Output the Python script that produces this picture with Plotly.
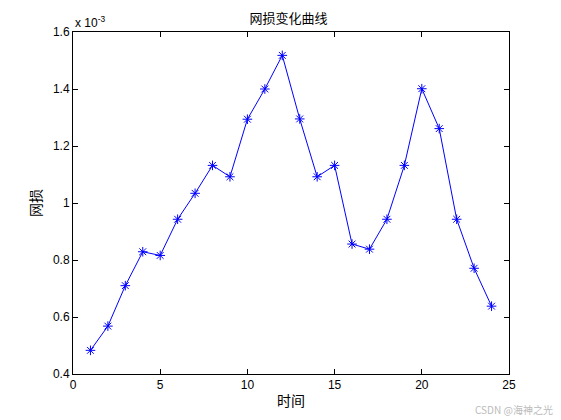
import plotly.graph_objects as go

time = list(range(1, 25))
loss_e3 = [0.483, 0.568, 0.710, 0.829, 0.816, 0.943, 1.034, 1.132, 1.092, 1.294,
           1.400, 1.518, 1.295, 1.092, 1.132, 0.856, 0.838, 0.943, 1.132, 1.401,
           1.261, 0.943, 0.771, 0.638]

x_ticks = [0, 5, 10, 15, 20, 25]
y_ticks = [0.4, 0.6, 0.8, 1.0, 1.2, 1.4, 1.6]
y_ticktext = ["0.4", "0.6", "0.8", "1", "1.2", "1.4", "1.6"]

fig = go.Figure()
fig.add_trace(go.Scatter(
    x=time, y=loss_e3, mode="lines+markers",
    line=dict(color="#0000FF", width=1),
    marker=dict(symbol="asterisk-open", size=8, color="#0000FF",
                line=dict(color="#0000FF", width=1)),
    showlegend=False,
))

axis_common = dict(showline=True, linecolor="black", linewidth=1, mirror="ticks",
                   ticks="inside", ticklen=5, tickcolor="black", showgrid=False,
                   zeroline=False, tickfont=dict(family="Liberation Sans, Arial", size=12, color="black"))

fig.update_xaxes(range=[0, 25], tickvals=x_ticks,
                 title=dict(text="时间", font=dict(family="Noto Sans CJK SC", size=14, color="black"), standoff=4),
                 **axis_common)
fig.update_yaxes(range=[0.4, 1.6], tickvals=y_ticks, ticktext=y_ticktext,
                 title=dict(text="网损", font=dict(family="Noto Sans CJK SC", size=14, color="black"), standoff=8),
                 **axis_common)

fig.update_layout(
    width=561, height=420,
    margin=dict(l=65, r=60, t=24, b=54),
    paper_bgcolor="white", plot_bgcolor="white",
    title=dict(text="网损变化曲线", x=0.5, xanchor="center", y=0.975, yanchor="middle",
               font=dict(family="Noto Sans CJK SC", size=13, color="black")),
)

fig.add_annotation(text="x 10<sup>-3</sup>", x=0, y=1, xref="paper", yref="paper",
                   xanchor="left", yanchor="bottom", showarrow=False,
                   font=dict(family="Liberation Sans, Arial", size=12, color="black"))
fig.add_annotation(text="CSDN @海神之光", x=1.1055, y=-0.105, xref="paper", yref="paper",
                   xanchor="right", yanchor="middle", showarrow=False,
                   font=dict(family="Noto Sans CJK SC", size=10, color="#BBBBBB"))

fig.write_html("out.html")
